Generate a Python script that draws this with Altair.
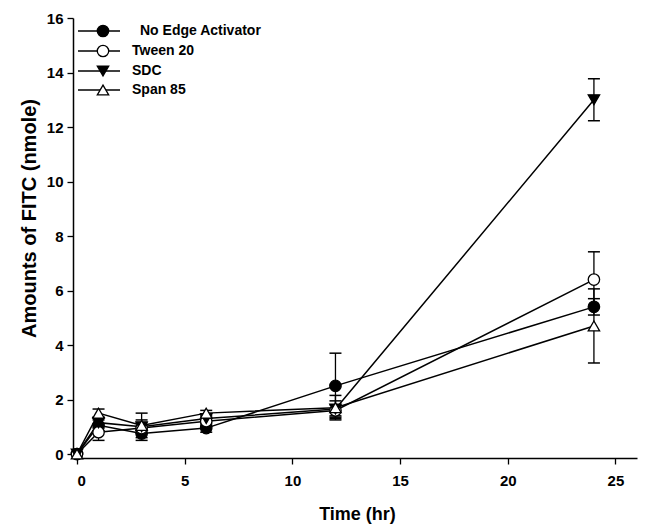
import altair as alt
import pandas as pd

# ---- data ----
times = [0, 1, 3, 6, 12, 24]
series_names = ["No Edge Activator", "Tween 20", "SDC", "Span 85"]
no_edge = [0.0, 1.05, 0.75, 0.95, 2.50, 5.40]
no_edge_err = [0.05, 0.20, 0.15, 0.15, 1.20, 0.30]
tween = [0.0, 0.80, 0.95, 1.20, 1.60, 6.40]
tween_err = [0.05, 0.30, 0.20, 0.15, 0.20, 1.02]
sdc = [0.0, 1.15, 1.00, 1.30, 1.65, 13.00]
sdc_err = [0.05, 0.20, 0.50, 0.15, 0.30, 0.77]
span = [0.0, 1.50, 1.05, 1.50, 1.70, 4.70]
span_err = [0.05, 0.15, 0.20, 0.10, 0.45, 1.36]

shapes = ["circle", "circle", "triangle-down", "triangle-up"]
fills = ["black", "white", "black", "white"]

rows = []
for name, vals, errs in zip(series_names,
                            [no_edge, tween, sdc, span],
                            [no_edge_err, tween_err, sdc_err, span_err]):
    for t, v, e in zip(times, vals, errs):
        rows.append({"series": name, "time": t, "value": v,
                     "lo": max(v - e, 0), "hi": v + e})
df = pd.DataFrame(rows)

FONT = "Liberation Sans"

x_enc = alt.X("time:Q", scale=alt.Scale(domain=[0, 25]),
              axis=alt.Axis(values=[0, 5, 10, 15, 20, 25], title="Time (hr)",
                            offset=4, titlePadding=17))
y_enc = alt.Y("value:Q", scale=alt.Scale(domain=[0, 16]),
              axis=alt.Axis(values=list(range(0, 17, 2)), title="Amounts of FITC (nmole)",
                            offset=4, titlePadding=7, titleY=200))

base = alt.Chart(df)

lines = base.mark_line(color="black", strokeWidth=1.5).encode(
    x=x_enc, y=y_enc, detail="series:N")

err = base.mark_rule(color="black", strokeWidth=1.3).encode(
    x="time:Q", y="lo:Q", y2="hi:Q")
cap_hi = base.mark_point(shape="stroke", size=144, color="black",
                         strokeWidth=1.5, opacity=1).encode(x="time:Q", y="hi:Q")
cap_lo = base.mark_point(shape="stroke", size=144, color="black",
                         strokeWidth=1.5, opacity=1).encode(x="time:Q", y="lo:Q")

points = base.mark_point(size=130, stroke="black", strokeWidth=1.3,
                         filled=False, opacity=1).encode(
    x="time:Q", y="value:Q",
    shape=alt.Shape("series:N", scale=alt.Scale(domain=series_names, range=shapes), legend=None),
    fill=alt.Fill("series:N", scale=alt.Scale(domain=series_names, range=fills), legend=None),
)

# ---- manual legend (layout positions in pixels) ----
leg_y = [13, 33, 53, 72]
leg_text_dx = [8, 0, 0, 0]
legend_layers = []
for name, shp, fl, ly, dx in zip(series_names, shapes, fills, leg_y, leg_text_dx):
    ldf = pd.DataFrame({"label": [name]})
    lc = alt.Chart(ldf)
    legend_layers.append(lc.mark_rule(color="black", strokeWidth=1.5).encode(
        x=alt.value(1), x2=alt.value(43), y=alt.value(ly)))
    legend_layers.append(lc.mark_point(shape=shp, size=130, fill=fl, stroke="black",
                                       strokeWidth=1.3, opacity=1, filled=False).encode(
        x=alt.value(26), y=alt.value(ly)))
    legend_layers.append(lc.mark_text(align="left", baseline="middle", font=FONT,
                                      fontWeight="bold", fontSize=14, color="black",
                                      dx=dx).encode(
        text="label:N", x=alt.value(55), y=alt.value(ly)))

chart = alt.layer(lines, err, cap_hi, cap_lo, points, *legend_layers).properties(
    width=560, height=436,
    autosize=alt.AutoSizeParams(type="none"),
    padding={"left": 69, "top": 10, "right": 3, "bottom": 76},
).configure_view(stroke=None).configure_axis(
    grid=False, domainColor="black", domainWidth=1.5, tickColor="black",
    tickWidth=1.3, tickSize=6, labelFont=FONT, labelFontWeight="bold",
    labelFontSize=15, labelColor="black", titleFont=FONT, titleFontWeight="bold",
    titleFontSize=18, titleColor="black", labelPadding=4,
).configure_axisX(labelPadding=9).configure_axisY(titleFontSize=20)

chart.save("out.html", embed_options={"renderer": "svg", "actions": False})
